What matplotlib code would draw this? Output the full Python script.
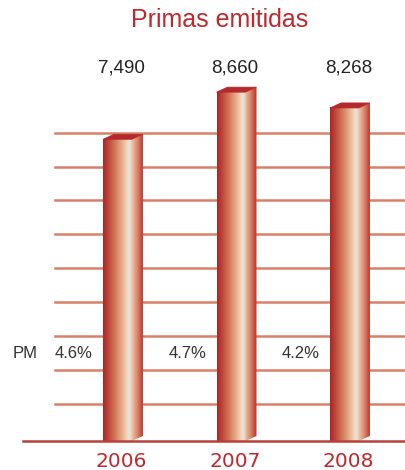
import numpy as np
import matplotlib
matplotlib.use("Agg")
import matplotlib.pyplot as plt
from matplotlib.colors import LinearSegmentedColormap
from matplotlib.patches import Polygon

years = ["2006", "2007", "2008"]
primas = [7490, 8660, 8268]
value_labels = ["7,490", "8,660", "8,268"]
pm_labels = ["4.6%", "4.7%", "4.2%"]
title = "Primas emitidas"

RED = "#c0282d"
GRID = "#da8068"
BASE = "#b9403a"

front_cmap = LinearSegmentedColormap.from_list("front", [
    (0.00, "#aa2626"), (0.15, "#bb4036"), (0.45, "#d67e5e"),
    (0.75, "#eec2a0"), (0.86, "#f6dcc2"), (0.91, "#dfe4ea"),
    (1.00, "#ecc8b0")])
side_cmap = LinearSegmentedColormap.from_list("side", [
    (0.00, "#eec3a6"), (0.45, "#d9866a"), (1.00, "#b42a2a")])

fig = plt.figure(figsize=(4.06, 4.70), dpi=100)
ax = fig.add_axes([0, 0, 1, 1])
ax.set_axis_off()

xmin, xmax = -1.035, 2.542
ymin, ymax = -720, 10948
width = 0.255
dx, dy = 0.097, 125

# background grid lines
grid_levels = 926 + 841 * np.arange(9)
for g in grid_levels:
    ax.plot([-0.55, xmax], [g, g], color=GRID, lw=1.8, zorder=1)
ax.plot([-0.83, xmax], [0, 0], color=BASE, lw=1.8, zorder=5)

grad = np.linspace(0, 1, 256).reshape(1, -1)
for i, (h, lab, pm) in enumerate(zip(primas, value_labels, pm_labels)):
    x0, x1 = i - width / 2, i + width / 2
    ax.imshow(grad, cmap=front_cmap, extent=(x0, x1, 0, h),
              aspect="auto", zorder=3, interpolation="bilinear")
    side = Polygon([(x1, 0), (x1 + dx, dy), (x1 + dx, h + dy), (x1, h)],
                   closed=True, fc="none", ec="none")
    ax.add_patch(side)
    im = ax.imshow(grad, cmap=side_cmap, extent=(x1, x1 + dx, 0, h + dy),
                   aspect="auto", zorder=3, interpolation="bilinear")
    im.set_clip_path(side)
    top = Polygon([(x0, h), (x1, h), (x1 + dx, h + dy), (x0 + dx, h + dy)],
                  closed=True, fc="#b4292a", ec="#b4292a", lw=0.5, zorder=4)
    ax.add_patch(top)

    ax.text(i + 0.035, 9260, lab, ha="center", va="center", fontsize=13.5,
            color="#222222", family="Liberation Sans")
    ax.text(i - 0.383, 2160, pm, ha="center", va="center", fontsize=12,
            color="#333333", family="Liberation Sans")
    ax.text(i + 0.035, -500, years[i], ha="center", va="center",
            fontsize=14.5, color=RED, family="DejaVu Sans")

ax.text(-0.815, 2160, "PM", ha="center", va="center", fontsize=12,
        color="#333333", family="Liberation Sans")
ax.text(0.9, 10452, title, ha="center", va="center", fontsize=18,
        color=RED, family="Liberation Sans")

ax.set_xlim(xmin, xmax)
ax.set_ylim(ymin, ymax)
fig.savefig("out.png", dpi=100)
